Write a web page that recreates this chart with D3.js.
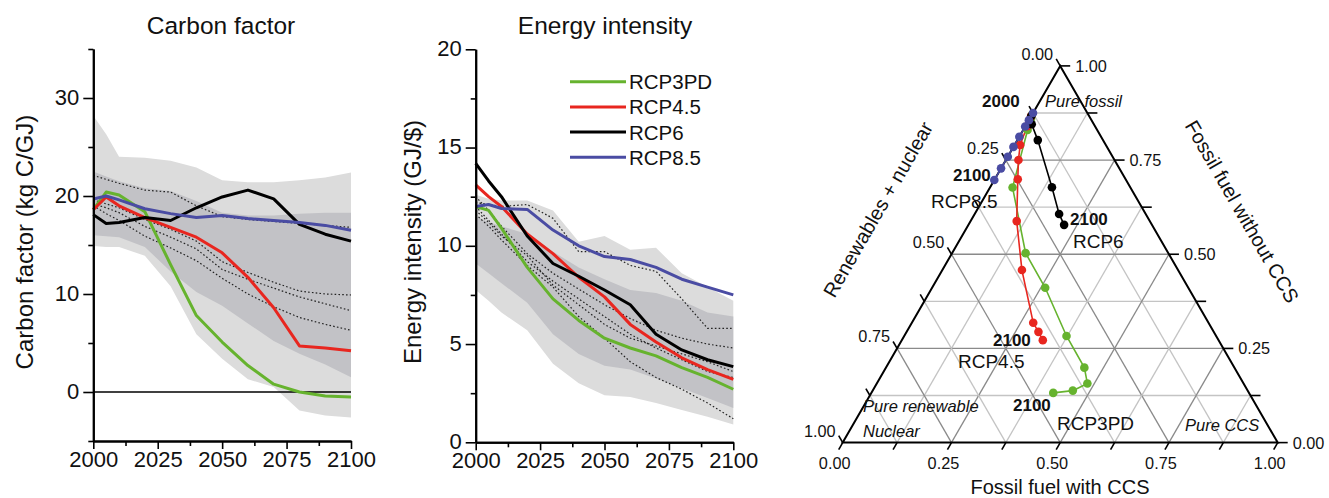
<!DOCTYPE html>
<html><head><meta charset="utf-8">
<script src="https://cdn.jsdelivr.net/npm/d3@7/dist/d3.min.js"></script>
<style>
body{margin:0;background:#fff}
svg{display:block}
text{font-family:"Liberation Sans",Arial,Helvetica,sans-serif;fill:#111}
</style>
</head><body>
<svg id="chart" width="1329" height="498"></svg>
<script>
// ---------------- DATA ----------------
const years = [2000,2005,2010,2020,2030,2040,2050,2060,2070,2080,2090,2100];
const scenarios = ["RCP3PD","RCP4.5","RCP6","RCP8.5"];
const colors = ["#66b32e","#e8261f","#000000","#4a4ca3"];

// Carbon factor (kg C/GJ)
const cfRCP3PD = [18.6,20.4,20.1,18.4,13.0,7.8,5.1,2.7,0.8,0.0,-0.4,-0.5];
const cfRCP45  = [18.6,19.9,19.0,17.8,16.8,15.8,14.2,11.7,8.6,4.7,4.5,4.2];
const cfRCP6   = [18.1,17.2,17.3,17.8,17.5,18.8,19.9,20.6,19.7,17.1,16.1,15.4];
const cfRCP85  = [19.7,20.0,19.6,18.7,18.2,17.8,18.0,17.7,17.5,17.3,17.0,16.5];
const cfOuterHi = [28.2,26.3,24.0,23.9,23.6,22.9,21.6,21.4,21.4,21.6,21.9,22.4];
const cfOuterLo = [14.9,14.8,14.8,13.9,10.8,5.9,3.4,1.3,0.5,-1.9,-2.4,-2.6];
const cfInnerHi = [22.5,22.0,21.5,20.8,20.5,19.5,18.3,18.0,18.0,18.2,18.3,18.3];
const cfInnerLo = [16.0,15.9,15.8,14.8,12.3,10.2,8.8,7.0,5.2,3.9,2.8,1.5];
const cfDot1 = [22.1,21.7,21.3,20.6,20.4,19.0,17.9,17.6,17.4,17.2,17.0,16.8];
const cfDot2 = [19.6,19.2,18.8,17.6,16.6,15.4,13.3,12.2,11.2,10.3,10.0,9.9];
const cfDot3 = [19.2,18.8,18.3,16.9,15.8,14.6,12.5,11.5,10.6,9.7,9.0,8.3];
const cfDot4 = [19.0,18.2,17.5,15.9,14.7,13.4,11.6,10.0,8.7,7.6,6.9,6.3];

// Energy intensity (GJ/$)
const eiRCP3PD = [12.0,11.8,10.9,8.9,7.3,6.2,5.3,4.8,4.4,3.8,3.3,2.7];
const eiRCP45  = [13.1,12.5,12.0,10.6,9.6,8.4,7.4,6.0,5.1,4.3,3.7,3.2];
const eiRCP6   = [14.2,13.3,12.5,10.5,9.1,8.45,7.75,7.0,5.5,4.7,4.2,3.85];
const eiRCP85  = [12.0,12.1,11.9,11.85,10.8,10.0,9.45,9.3,8.9,8.3,7.9,7.5];
const eiOuterHi = [12.6,12.4,12.3,12.3,11.8,10.2,10.5,9.8,9.9,8.6,7.9,7.2];
const eiOuterLo = [7.75,7.2,6.6,5.7,4.0,3.0,2.4,2.3,2.0,1.65,1.3,0.9];
const eiInnerHi = [11.5,11.2,11.0,10.6,9.7,8.9,8.3,7.75,7.6,7.2,6.6,6.4];
const eiInnerLo = [9.1,8.6,8.1,7.1,5.5,4.5,3.9,3.7,3.25,2.75,2.25,1.75];
const eiDot1 = [12.2,12.1,12.0,12.1,11.4,9.7,9.7,9.0,8.7,7.3,5.8,5.8];
const eiDot2 = [12.5,11.8,11.0,9.6,8.6,7.8,7.0,6.3,5.7,5.3,5.0,4.8];
const eiDot3 = [12.0,11.3,10.6,9.2,8.2,7.3,6.4,5.5,4.8,4.2,3.6,3.3];
const eiDot4 = [11.6,11.0,10.3,9.0,7.9,6.4,5.3,4.1,3.3,2.7,2.0,1.2];
const eiDot5 = [11.8,11.2,10.5,9.5,8.0,7.0,6.0,5.3,4.9,4.5,4.1,3.6];

// Ternary: share of fossil fuel without CCS (f) and with CCS (c); renewables+nuclear = 1-f-c
const tfRCP3PD = [0.870,0.860,0.830,0.677,0.503,0.411,0.283,0.199,0.157,0.138,0.132];
const tcRCP3PD = [0.000,0.003,0.010,0.052,0.169,0.260,0.373,0.456,0.484,0.460,0.418];
const tfRCP45  = [0.866,0.840,0.790,0.750,0.699,0.588,0.458,0.318,0.294,0.272];
const tcRCP45  = [0.000,0.004,0.013,0.029,0.053,0.106,0.183,0.279,0.303,0.324];
const tfRCP6   = [0.867,0.845,0.803,0.678,0.607,0.578];
const tcRCP6   = [0.000,0.012,0.047,0.142,0.194,0.220];
const tfRCP85  = [0.875,0.856,0.839,0.812,0.785,0.759,0.728,0.697];
const tcRCP85  = [0.000,0.000,0.000,0.000,0.000,0.000,0.000,0.000];

const xTickYears = [2000,2025,2050,2075,2100];
const xMinorYears = [2012.5,2037.5,2062.5,2087.5];
const cfTicks = [0,10,20,30];
const cfMinor = [-5,5,15,25,35];
const eiTicks = [0,5,10,15,20];
const eiMinor = [2.5,7.5,12.5,17.5];
const ternTicks = [0,0.125,0.25,0.375,0.5,0.625,0.75,0.875,1];

// ---------------- DRAW ----------------
const svg = d3.select("#chart");
const FONT = 22;

function panel(opt){
  const g = svg.append("g");
  const x = d3.scaleLinear().domain([2000,2100]).range(opt.xr);
  const y = d3.scaleLinear().domain(opt.yd).range(opt.yr);
  const area = (hi,lo)=>d3.area().x((d,i)=>x(years[i])).y0((d,i)=>y(lo[i])).y1((d,i)=>y(hi[i]))(years);
  g.append("path").attr("d",area(opt.outerHi,opt.outerLo)).attr("fill","#dcdcdc");
  g.append("path").attr("d",area(opt.innerHi,opt.innerLo)).attr("fill","#c2c2c6");
  const line = d3.line().x((d,i)=>x(years[i])).y(d=>y(d));
  if(opt.zero){
    g.append("line").attr("x1",x(2000)).attr("x2",x(2100)).attr("y1",y(0)).attr("y2",y(0))
     .attr("stroke","#000").attr("stroke-width",1.6);
  }
  opt.dots.forEach(s=>{
    g.append("path").attr("d",line(s)).attr("fill","none").attr("stroke","#222")
     .attr("stroke-width",1.2).attr("stroke-dasharray","1.6,2.2");
  });
  opt.series.forEach((s,i)=>{
    g.append("path").attr("d",line(s)).attr("fill","none").attr("stroke",colors[i])
     .attr("stroke-width",3).attr("stroke-linejoin","round");
  });
  // axes
  g.append("g").attr("transform",`translate(0,${opt.yr[0]})`)
    .call(d3.axisBottom(x).tickValues(xTickYears).tickSize(8).tickSizeOuter(0).tickPadding(2).tickFormat(d3.format("d")));
  g.append("g").attr("transform",`translate(0,${opt.yr[0]})`)
    .call(d3.axisBottom(x).tickValues(xMinorYears).tickSize(5).tickSizeOuter(0).tickFormat(""));
  g.append("g").attr("transform",`translate(${opt.xr[0]},0)`)
    .call(d3.axisLeft(y).tickValues(opt.ticks).tickSize(10).tickSizeOuter(0).tickPadding(4))
    .selectAll(".tick text").attr("dy","0.28em");
  g.append("g").attr("transform",`translate(${opt.xr[0]},0)`)
    .call(d3.axisLeft(y).tickValues(opt.minor).tickSize(5).tickSizeOuter(0).tickFormat(""));
  g.selectAll(".domain").attr("stroke","#000").attr("stroke-width",2);
  g.selectAll(".tick line").attr("stroke","#000").attr("stroke-width",1.6);
  g.selectAll(".tick text").attr("font-size",FONT).attr("fill","#111")
    .attr("font-family","'Liberation Sans',Arial,sans-serif");
  // title and y-label
  g.append("text").attr("x",opt.titleX).attr("y",34).attr("text-anchor","middle")
    .attr("font-size",24.5).text(opt.title);
  g.append("text").attr("transform",`translate(${opt.ylabX},${opt.ylabY}) rotate(-90)`)
    .attr("text-anchor","middle").attr("font-size",24).text(opt.ylabel);
  return {x,y,g};
}

panel({xr:[93.3,351],yd:[-5,35],yr:[441,49],
  outerHi:cfOuterHi,outerLo:cfOuterLo,innerHi:cfInnerHi,innerLo:cfInnerLo,
  dots:[cfDot1,cfDot2,cfDot3,cfDot4],series:[cfRCP3PD,cfRCP45,cfRCP6,cfRCP85],
  ticks:cfTicks,minor:cfMinor,zero:true,title:"Carbon factor",titleX:221,
  ylabel:"Carbon factor (kg C/GJ)",ylabX:33,ylabY:242});

panel({xr:[475.7,733.3],yd:[0,20],yr:[442.3,49.3],
  outerHi:eiOuterHi,outerLo:eiOuterLo,innerHi:eiInnerHi,innerLo:eiInnerLo,
  dots:[eiDot1,eiDot2,eiDot3,eiDot4,eiDot5],series:[eiRCP3PD,eiRCP45,eiRCP6,eiRCP85],
  ticks:eiTicks,minor:eiMinor,zero:false,title:"Energy intensity",titleX:605,
  ylabel:"Energy intensity (GJ/$)",ylabX:421,ylabY:242});

// legend
const leg = svg.append("g");
scenarios.forEach((s,i)=>{
  const yy = 81.7 + i*25.2;
  leg.append("line").attr("x1",570).attr("x2",626).attr("y1",yy).attr("y2",yy)
    .attr("stroke",colors[i]).attr("stroke-width",3);
  leg.append("text").attr("x",629).attr("y",yy+7.5).attr("font-size",20.5).text(s);
});

// ---------------- TERNARY ----------------
const tg = svg.append("g");
const tx = d3.scaleLinear().domain([0,1]).range([842.7,1277.7]);
const ty = d3.scaleLinear().domain([0,1]).range([442.6,65.9]);
const P = (f,c)=>[tx(c+f/2), ty(f)];
const major = v => Math.abs(v*4-Math.round(v*4))<1e-6;

// grid
ternTicks.filter(v=>v>0&&v<1).forEach(v=>{
  const col = major(v) ? "#8a8a8a" : "#c4c4c4";
  const segs = [
    [P(v,0),P(v,1-v)],          // constant fossil w/o CCS
    [P(0,v),P(1-v,v)],          // constant CCS
    [P(0,1-v),P(1-v,0)]         // constant renewables
  ];
  segs.forEach(s=>tg.append("line").attr("x1",s[0][0]).attr("y1",s[0][1])
    .attr("x2",s[1][0]).attr("y2",s[1][1]).attr("stroke",col).attr("stroke-width",1.3));
});
// edges
const tri = [P(0,0),P(0,1),P(1,0)];
tg.append("path").attr("d","M"+tri.map(p=>p.join(",")).join("L")+"Z")
  .attr("fill","none").attr("stroke","#000").attr("stroke-width",2);

// ticks & labels
const fmt = d3.format(".2f");
const TL = 8;
ternTicks.forEach(v=>{
  const big = major(v);
  // bottom axis: CCS
  let p = P(0,v);
  tg.append("line").attr("x1",p[0]).attr("y1",p[1]).attr("x2",p[0]-TL*0.5).attr("y2",p[1]+TL*0.866)
    .attr("stroke","#000").attr("stroke-width",1.6);
  if(big) tg.append("text").attr("x",p[0]-8).attr("y",p[1]+26).attr("text-anchor","middle")
    .attr("font-size",16.3).text(fmt(v));
  // right axis: fossil without CCS
  p = P(v,1-v);
  tg.append("line").attr("x1",p[0]).attr("y1",p[1]).attr("x2",p[0]+10).attr("y2",p[1])
    .attr("stroke","#000").attr("stroke-width",1.6);
  if(big) tg.append("text").attr("x",p[0]+15).attr("y",p[1]+6).attr("font-size",16.3).text(fmt(v));
  // left axis: renewables + nuclear
  p = P(1-v,0);
  tg.append("line").attr("x1",p[0]).attr("y1",p[1]).attr("x2",p[0]-TL*0.5).attr("y2",p[1]-TL*0.866)
    .attr("stroke","#000").attr("stroke-width",1.6);
  if(big) tg.append("text").attr("x",p[0]-7).attr("y",p[1]-6).attr("text-anchor","end")
    .attr("font-size",16.3).text(fmt(v));
});

// series
const tSeries = [[tfRCP3PD,tcRCP3PD],[tfRCP45,tcRCP45],[tfRCP6,tcRCP6],[tfRCP85,tcRCP85]];
const tline = d3.line();
tSeries.forEach((s,i)=>{
  const pts = s[0].map((f,j)=>P(f,s[1][j]));
  tg.append("path").attr("d",tline(pts)).attr("fill","none").attr("stroke",colors[i]).attr("stroke-width",1.6);
});
tSeries.forEach((s,i)=>{
  const pts = s[0].map((f,j)=>P(f,s[1][j]));
  tg.selectAll(null).data(pts).enter().append("circle").attr("cx",d=>d[0]).attr("cy",d=>d[1])
    .attr("r",4.3).attr("fill",colors[i]);
});

// axis titles
tg.append("text").attr("x",1060).attr("y",494).attr("text-anchor","middle").attr("font-size",20).text("Fossil fuel with CCS");
tg.append("text").attr("transform","translate(1236,215) rotate(60)").attr("text-anchor","middle")
  .attr("font-size",20).text("Fossil fuel without CCS");
tg.append("text").attr("transform","translate(884,213) rotate(-60)").attr("text-anchor","middle")
  .attr("font-size",20).text("Renewables + nuclear");

// annotations
const ann = [
  ["Pure fossil",1045,107,"italic","normal",16.5],
  ["Pure renewable",863,412,"italic","normal",16.5],
  ["Nuclear",863,437,"italic","normal",16.5],
  ["Pure CCS",1185,431,"italic","normal",16.5],
  ["2000",982,107,"normal","bold",17],
  ["2100",953,181,"normal","bold",17],
  ["RCP8.5",931,208,"normal","normal",19],
  ["2100",1070,225,"normal","bold",17],
  ["RCP6",1073,248,"normal","normal",19],
  ["2100",993,346,"normal","bold",17],
  ["RCP4.5",958,368,"normal","normal",19],
  ["2100",1013,411,"normal","bold",17],
  ["RCP3PD",1057,430,"normal","normal",19]
];
ann.forEach(a=>tg.append("text").attr("x",a[1]).attr("y",a[2]).attr("font-style",a[3])
  .attr("font-weight",a[4]).attr("font-size",a[5]).text(a[0]));
</script>
</body></html>
